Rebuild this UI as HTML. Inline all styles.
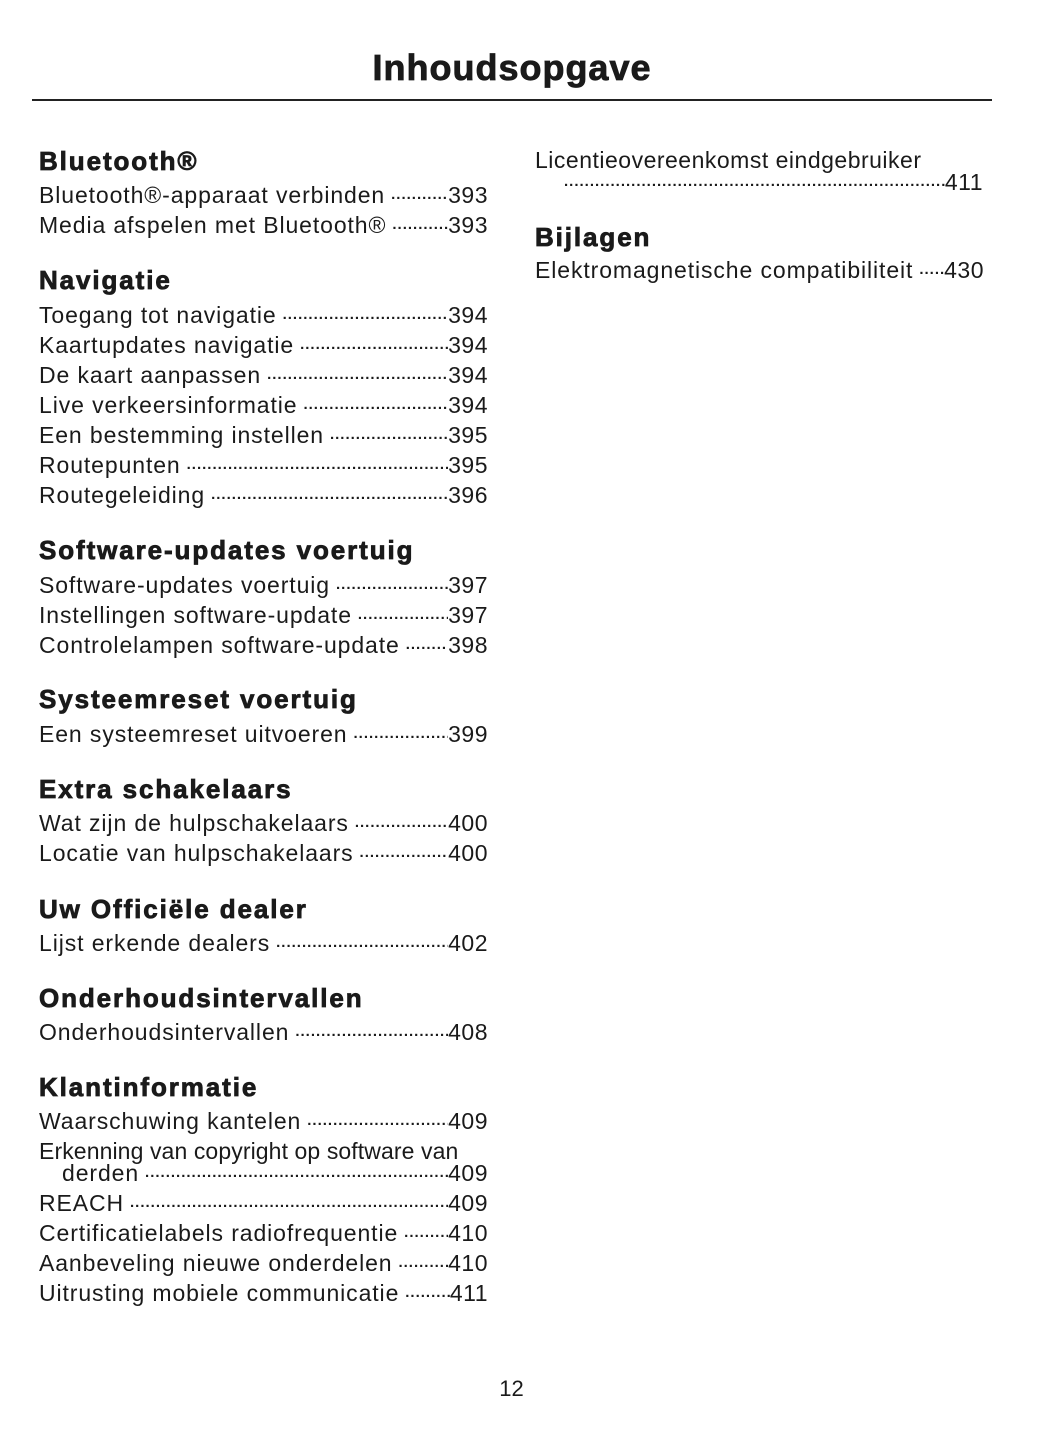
<!DOCTYPE html>
<html><head><meta charset="utf-8"><style>
body{margin:0;background:#fff;}
#p{position:relative;width:1055px;height:1448px;overflow:hidden;font-family:"Liberation Sans",sans-serif;color:#1a1a1a;}
.t{position:absolute;left:0;width:1024px;text-align:center;top:46px;font-size:36px;font-weight:900;line-height:44px;letter-spacing:1px;-webkit-text-stroke:0.8px #1a1a1a;}
.hr{position:absolute;left:32px;width:960px;top:99px;height:1.5px;background:#222;}
.h{position:absolute;font-size:26px;font-weight:900;line-height:30px;height:30px;white-space:nowrap;letter-spacing:1.9px;-webkit-text-stroke:0.8px #1a1a1a;}
.e{position:absolute;font-size:23px;line-height:26px;height:26px;display:flex;white-space:nowrap;width:449px;letter-spacing:0.9px;}
.e .d{flex:1;overflow:hidden;font-size:15px;letter-spacing:1px;padding-left:6px;font-weight:bold;}
.e .n{flex:none;letter-spacing:0.5px;}
</style></head><body><div id="p">
<div class="t">Inhoudsopgave</div>
<div class="hr"></div>
<div id="c"></div>
<div style="position:absolute;left:0;width:1023px;text-align:center;top:1376px;font-size:22px;line-height:26px;">12</div>
</div>
<script>
var D='.'.repeat(200);
var items=[
['h',39,161,'Bluetooth®'],
['e',39,195,'Bluetooth®-apparaat verbinden','393'],
['e',39,225,'Media afspelen met Bluetooth®','393'],
['h',39,280,'Navigatie'],
['e',39,315,'Toegang tot navigatie','394'],
['e',39,345,'Kaartupdates navigatie','394'],
['e',39,375,'De kaart aanpassen','394'],
['e',39,405,'Live verkeersinformatie','394'],
['e',39,435,'Een bestemming instellen','395'],
['e',39,465,'Routepunten','395'],
['e',39,495,'Routegeleiding','396'],
['h',39,550,'Software-updates voertuig'],
['e',39,585,'Software-updates voertuig','397'],
['e',39,615,'Instellingen software-update','397'],
['e',39,645,'Controlelampen software-update','398'],
['h',39,699,'Systeemreset voertuig'],
['e',39,734,'Een systeemreset uitvoeren','399'],
['h',39,789,'Extra schakelaars'],
['e',39,823,'Wat zijn de hulpschakelaars','400'],
['e',39,853,'Locatie van hulpschakelaars','400'],
['h',39,909,'Uw Officiële dealer'],
['e',39,943,'Lijst erkende dealers','402'],
['h',39,998,'Onderhoudsintervallen'],
['e',39,1032,'Onderhoudsintervallen','408'],
['h',39,1087,'Klantinformatie'],
['e',39,1121,'Waarschuwing kantelen','409'],
['x',39,1151,'Erkenning van copyright op software van'],
['e',62,1173,'derden','409',426],
['e',39,1203,'REACH','409'],
['e',39,1233,'Certificatielabels radiofrequentie','410'],
['e',39,1263,'Aanbeveling nieuwe onderdelen','410'],
['e',39,1293,'Uitrusting mobiele communicatie','411'],
['x',535,160,'Licentieovereenkomst eindgebruiker'],
['e',558,182,'','411',425],
['h',535,237,'Bijlagen'],
['e',535,270,'Elektromagnetische compatibiliteit','430',449]
];
var c=document.getElementById('c'),h='';
items.forEach(function(i){
 if(i[0]=='h')h+='<div class="h" style="left:'+i[1]+'px;top:'+(i[2]-15)+'px">'+i[3]+'</div>';
 else if(i[0]=='x')h+='<div class="e" style="left:'+i[1]+'px;top:'+(i[2]-13)+'px;letter-spacing:'+(i[1]>500?'0.5px':'0.1px')+'">'+i[3]+'</div>';
 else h+='<div class="e" style="left:'+i[1]+'px;top:'+(i[2]-13)+'px;'+(i[5]?'width:'+i[5]+'px':'')+'"><span>'+i[3]+'</span><span class="d">'+D+'</span><span class="n">'+i[4]+'</span></div>';
});
c.innerHTML=h;
</script>
</body></html>
